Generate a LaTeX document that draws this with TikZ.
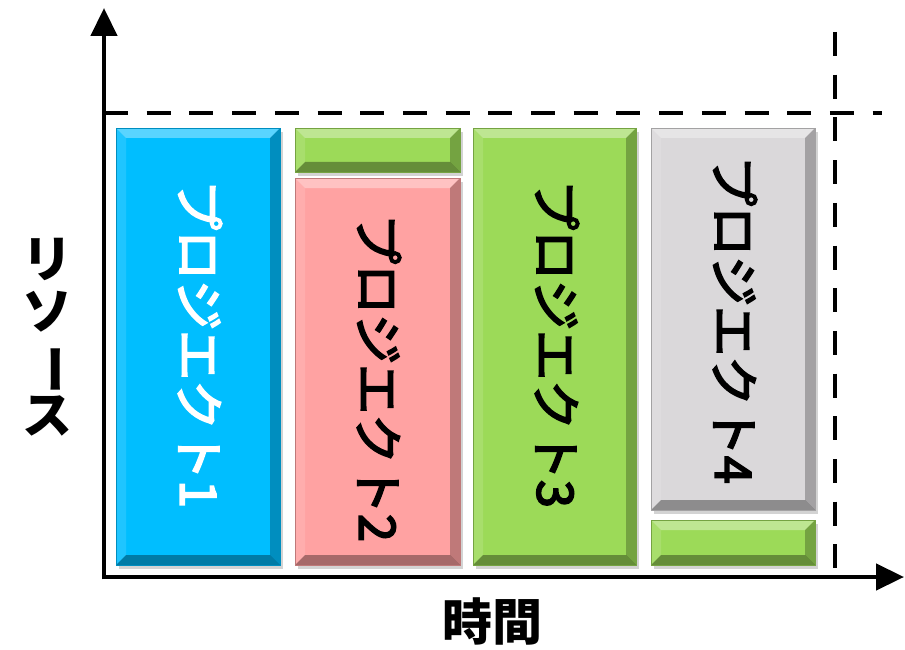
\documentclass[tikz,border=0pt]{standalone}
\usepackage{fontspec}
\newfontfamily\jp{Noto Sans CJK JP}
\newfontfamily\jpm{Noto Sans CJK JP}[FakeBold=3.5]
\usetikzlibrary{arrows.meta,shadows,calc}
\definecolor{pcyan}{RGB}{0,190,255}
\definecolor{ppink}{RGB}{255,162,162}
\definecolor{pgreen}{RGB}{156,218,88}
\definecolor{pgray}{RGB}{218,216,218}
\tikzset{
  bevel/.style={fill=#1, draw=#1!75!black, line width=0.6pt, inner sep=0pt,
    drop shadow={opacity=0.35,shadow xshift=3pt,shadow yshift=-4pt},
    path picture={
      \fill[white,opacity=.35] (path picture bounding box.north west) -- (path picture bounding box.north east)
        -- ([shift={(-10pt,-10pt)}]path picture bounding box.north east) -- ([shift={(10pt,-10pt)}]path picture bounding box.north west) -- cycle;
      \fill[white,opacity=.12] (path picture bounding box.north west) -- (path picture bounding box.south west)
        -- ([shift={(10pt,10pt)}]path picture bounding box.south west) -- ([shift={(10pt,-10pt)}]path picture bounding box.north west) -- cycle;
      \fill[black,opacity=.25] (path picture bounding box.north east) -- (path picture bounding box.south east)
        -- ([shift={(-10pt,10pt)}]path picture bounding box.south east) -- ([shift={(-10pt,-10pt)}]path picture bounding box.north east) -- cycle;
      \fill[black,opacity=.35] (path picture bounding box.south west) -- (path picture bounding box.south east)
        -- ([shift={(-10pt,10pt)}]path picture bounding box.south east) -- ([shift={(10pt,10pt)}]path picture bounding box.south west) -- cycle;
    }},
  ptext/.style={rotate=-90, font=\jpm\fontsize{50}{54}\selectfont, inner sep=0pt},
  axis/.style={line width=4.5pt, -{Triangle[length=28pt,width=26pt]}},
  guide/.style={line width=4.5pt, dash pattern=on 24pt off 18.7pt},
  lab/.style={font=\jp\bfseries\fontsize{50}{54}\selectfont, inner sep=0pt, align=center}
}
\begin{document}
\begin{tikzpicture}[x=1pt,y=-1pt]
\useasboundingbox (0,0) rectangle (905,650);
% boxes
\node[bevel=pcyan, minimum width=164pt, minimum height=437pt] (p1) at (198,346.5) {};
\node[bevel=pgreen, minimum width=165pt, minimum height=44pt] (p2a) at (377.5,150) {};
\node[bevel=ppink, minimum width=165pt, minimum height=387pt] (p2) at (377.5,371.5) {};
\node[bevel=pgreen, minimum width=163pt, minimum height=437pt] (p3) at (554.5,346.5) {};
\node[bevel=pgray, minimum width=164pt, minimum height=382pt] (p4) at (733,319) {};
\node[bevel=pgreen, minimum width=164pt, minimum height=45pt] (p4a) at (733,542.5) {};
% texts
\node[ptext, text=white] (t1) at (200,344) {プロジエクト1};
\node[ptext] (t2) at (379,378) {プロジエクト2};
\node[ptext] (t3) at (557,344) {プロジエクト3};
\node[ptext] (t4) at (735,320) {プロジエクト4};
% guides
\coordinate (h1) at (104,113);
\coordinate (h2) at (882,113);
\coordinate (v1) at (835,32);
\coordinate (v2) at (835,574);
\draw[guide] (h1) -- (h2);
\draw[guide] (v1) -- (v2);
% axes
\coordinate (O) at (104,577);
\coordinate (ytip) at (104,8);
\coordinate (xtip) at (904,577);
\draw[axis] ([yshift=-2.25pt]O) -- (ytip);
\draw[axis] ([xshift=-2.25pt]O) -- (xtip);
% labels
\node[lab] (ylab) at (48,337) {リ\\[-2pt]ソ\\[-2pt]\rotatebox[origin=c]{-90}{ー}\\[-2pt]ス};
\node[lab] (xlab) at (492,621) {時間};
\end{tikzpicture}
\end{document}
